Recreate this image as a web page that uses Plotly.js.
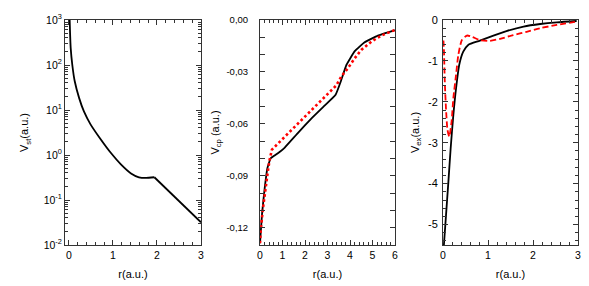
<!DOCTYPE html>
<html><head><meta charset="utf-8">
<script src="https://cdn.plot.ly/plotly-3.0.1.min.js"></script>
<style>html,body{margin:0;padding:0;background:#fff}#chart{width:589px;height:286px}</style>
</head><body><div id="chart"></div>
<script>
// Panel 1: V_st (log scale)
const stR = [0.012, 0.016, 0.04, 0.076, 0.13, 0.23, 0.34, 0.49, 0.72, 0.95, 1.18, 1.41, 1.59, 1.75, 1.94, 2.5, 3.0];
const stV = [1600, 1000, 234, 100, 44, 18.6, 9.3, 4.8, 2.24, 1.12, 0.62, 0.39, 0.32, 0.31, 0.32, 0.094, 0.032];
const stKink = 14; // index of the kink at r = 1.94

// Panel 2: V_cp
const cpR = [0, 0.09, 0.21, 0.33, 0.47, 0.65, 0.9, 1.1, 1.69, 2.28, 2.87, 3.36, 3.59, 3.84, 4.21, 4.65, 5.24, 5.99];
const cpV = [-0.129, -0.112, -0.097, -0.0855, -0.080, -0.0783, -0.0760, -0.0737, -0.0652, -0.0570, -0.0495, -0.0432, -0.0355, -0.026, -0.018, -0.0129, -0.009, -0.0058];
const cpModelR = [0, 0.03, 0.12, 0.18, 0.24, 0.28, 0.36, 0.43, 0.53, 1.39, 3.39, 3.61, 3.91, 4.21, 4.5, 4.95, 5.39, 5.99];
const cpModelV = [-0.129, -0.122, -0.110, -0.1037, -0.098, -0.0926, -0.0864, -0.0806, -0.0749, -0.0637, -0.0378, -0.0327, -0.0278, -0.0221, -0.0173, -0.0125, -0.009, -0.0058];

// Panel 3: V_ex
const exR = [0.02, 0.067, 0.12, 0.17, 0.23, 0.29, 0.36, 0.45, 0.56, 0.82, 1.12, 1.41, 1.79, 2.16, 2.53, 2.97];
const exV = [-5.5, -4.77, -3.95, -3.14, -2.32, -1.67, -1.10, -0.775, -0.61, -0.505, -0.38, -0.27, -0.16, -0.098, -0.057, -0.024];
const exModelR = [0.01, 0.02, 0.04, 0.07, 0.1, 0.14, 0.19, 0.23, 0.29, 0.34, 0.42, 0.53, 0.64, 0.82, 1.04, 1.27, 1.56, 1.86, 2.16, 2.53, 2.97];
const exModelV = [-0.5, -0.7, -1.51, -2.24, -2.69, -2.85, -2.49, -1.91, -1.34, -0.86, -0.49, -0.38, -0.41, -0.49, -0.51, -0.46, -0.37, -0.29, -0.20, -0.12, -0.04];

// Tick labels
const stTickVals = [0.01, 0.1, 1, 10, 100, 1000];
const stTickText = ['10<sup>-2</sup>', '10<sup>-1</sup>', '10<sup>0</sup>', '10<sup>1</sup>', '10<sup>2</sup>', '10<sup>3</sup>'];
const cpTickVals = [0, -0.01, -0.02, -0.03, -0.04, -0.05, -0.06, -0.07, -0.08, -0.09, -0.10, -0.11, -0.12, -0.13];
const cpTickText = ['0,00', '', '', '-0,03', '', '', '-0,06', '', '', '-0,09', '', '', '-0,12', ''];
const exTickVals = [0, -1, -2, -3, -4, -5];
const exTickText = ['0', '-1', '-2', '-3', '-4', '-5'];
const r3TickVals = [0, 1, 2, 3];
const r6TickVals = [0, 1, 2, 3, 4, 5, 6];

const FONT = 'Liberation Sans, Arial, sans-serif';
const AX = '#333';
function axis(extra) {
  return Object.assign({
    showline: true, linecolor: AX, linewidth: 1, mirror: 'ticks',
    ticks: 'inside', ticklen: 5, tickwidth: 1, tickcolor: AX,
    showgrid: false, zeroline: false, automargin: false,
    tickfont: {family: FONT, size: 10.5, color: '#000'}
  }, extra);
}
function minor(dt) {
  return {ticks: 'inside', ticklen: 3, tickwidth: 1, tickcolor: AX, showgrid: false, dtick: dt, tick0: 0};
}
const titleFont = {family: FONT, size: 11, color: '#000'};
const yDom = [1 - 245 / 286, 1 - 20 / 286];

const black = {color: '#000', width: 1.8};
const traces = [
  {x: stR.slice(0, stKink + 1), y: stV.slice(0, stKink + 1), xaxis: 'x', yaxis: 'y', mode: 'lines', line: Object.assign({shape: 'spline', smoothing: 0.5}, black), hoverinfo: 'skip'},
  {x: stR.slice(stKink), y: stV.slice(stKink), xaxis: 'x', yaxis: 'y', mode: 'lines', line: Object.assign({shape: 'linear'}, black), hoverinfo: 'skip'},
  {x: cpR, y: cpV, xaxis: 'x2', yaxis: 'y2', mode: 'lines', line: Object.assign({shape: 'spline', smoothing: 0.3}, black), hoverinfo: 'skip'},
  {x: cpModelR, y: cpModelV, xaxis: 'x2', yaxis: 'y2', mode: 'lines', line: {color: '#ff0000', width: 2.6, dash: '2.6px,2.6px'}, hoverinfo: 'skip'},
  {x: exR, y: exV, xaxis: 'x3', yaxis: 'y3', mode: 'lines', line: Object.assign({shape: 'spline', smoothing: 0.6}, black), hoverinfo: 'skip'},
  {x: exModelR, y: exModelV, xaxis: 'x3', yaxis: 'y3', mode: 'lines', line: {color: '#ff0000', width: 1.8, dash: '6px,3px', shape: 'spline', smoothing: 0.6}, hoverinfo: 'skip'}
];

const layout = {
  width: 589, height: 286, showlegend: false,
  margin: {l: 0, r: 0, t: 0, b: 0},
  paper_bgcolor: '#fff', plot_bgcolor: '#fff',
  xaxis: axis({domain: [65 / 589, 201 / 589], anchor: 'y', range: [-0.09, 3], tickvals: r3TickVals, ticktext: r3TickVals.map(String), minor: minor(0.2), title: {text: 'r(a.u.)', font: titleFont, standoff: 10}}),
  yaxis: axis({domain: yDom, anchor: 'x', type: 'log', range: [-2, 3], tickvals: stTickVals, ticktext: stTickText, minor: minor('D1'), title: {text: 'V<sub>st</sub>(a.u.)', font: titleFont, standoff: 12}}),
  xaxis2: axis({domain: [260 / 589, 395 / 589], anchor: 'y2', range: [0, 6], tickvals: r6TickVals, ticktext: r6TickVals.map(String), minor: minor(0.2), title: {text: 'r(a.u.)', font: titleFont, standoff: 10}}),
  yaxis2: axis({domain: yDom, anchor: 'x2', range: [-0.13, 0], tickvals: cpTickVals, ticktext: cpTickText, ticklabelstandoff: 9, tickfont: {family: FONT, size: 9.5, color: '#000'}, title: {text: 'V<sub>cp</sub> (a.u.)', font: titleFont, standoff: 4}}),
  xaxis3: axis({domain: [443 / 589, 578 / 589], anchor: 'y3', range: [0, 3], tickvals: r3TickVals, ticktext: r3TickVals.map(String), minor: minor(0.2), title: {text: 'r(a.u.)', font: titleFont, standoff: 10}}),
  yaxis3: axis({domain: yDom, anchor: 'x3', range: [-5.5, 0], tickvals: exTickVals, ticktext: exTickText, minor: minor(0.2), ticklabelstandoff: 2, tickfont: {family: FONT, size: 11, color: '#000'}, title: {text: 'V<sub>ex</sub>(a.u.)', font: titleFont, standoff: 6}})
};

Plotly.newPlot('chart', traces, layout, {staticPlot: true, displayModeBar: false});
</script>
</body></html>
